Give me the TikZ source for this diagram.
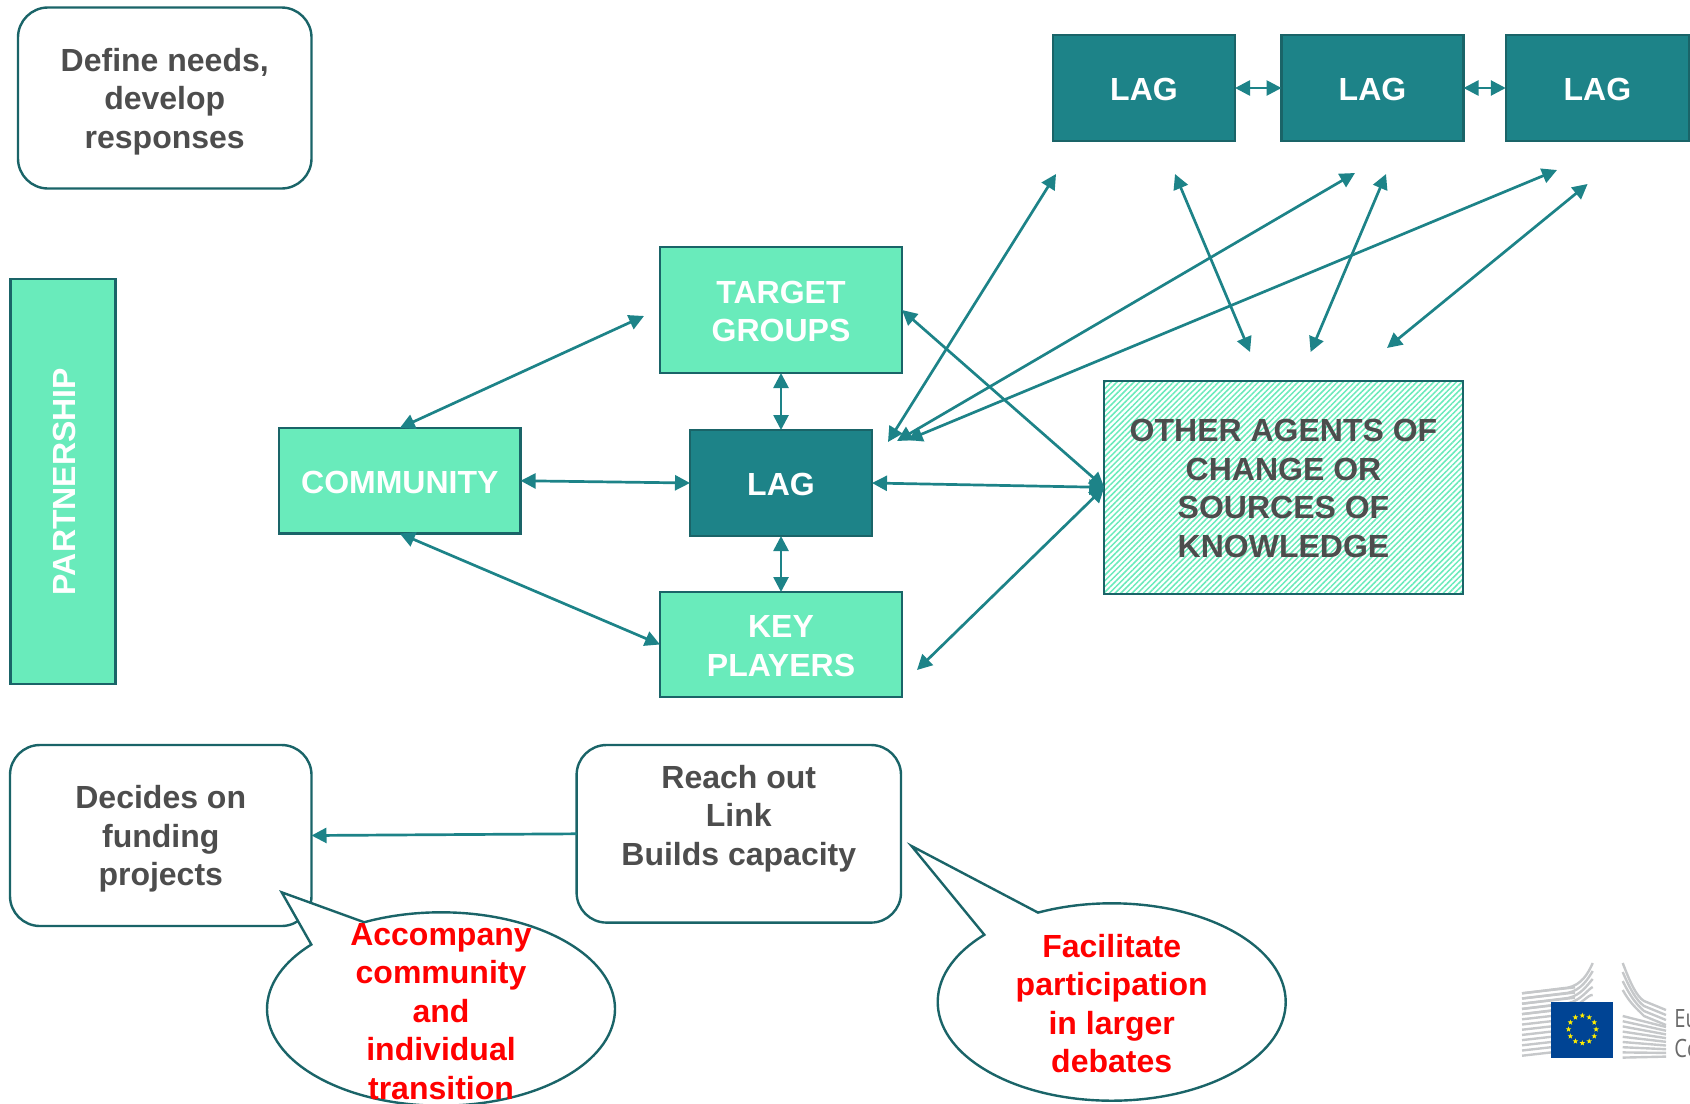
\documentclass[tikz,border=0pt]{standalone}
\usepackage{fontspec}
\setmainfont{Liberation Sans}
\newfontfamily\logofont[FakeStretch=0.8]{Open Sans}
\usetikzlibrary{arrows.meta,patterns.meta,shapes.geometric,shapes.callouts,calc}
\definecolor{tealfill}{HTML}{1D8388}
\definecolor{tealedge}{HTML}{1A6468}
\definecolor{mintfill}{HTML}{69EBBB}
\definecolor{greytext}{HTML}{4D4D4D}
\definecolor{euflag}{HTML}{004494}
\definecolor{eustar}{HTML}{FFED00}
\definecolor{logogrey}{HTML}{C6C8CA}
\definecolor{logotext}{HTML}{6A6A6A}
\newcommand{\topstr}{\rule{0pt}{15.3pt}}
\newcommand{\botstr}{\rule[-3pt]{0pt}{3pt}}
\tikzset{
  basebox/.style={rectangle,draw=tealedge,line width=1.2pt,outer sep=0pt,inner sep=0pt,align=center,
    font=\fontsize{16}{19.25}\selectfont\bfseries},
  lagbox/.style={basebox,fill=tealfill,text=white},
  mintbox/.style={basebox,fill=mintfill,text=white},
  hatchbox/.style={basebox,text=greytext,
    preaction={fill=white},
    preaction={pattern={Lines[angle=45,distance=2pt,line width=0.75pt]},pattern color=mintfill}},
  notebox/.style={basebox,fill=white,text=greytext,rounded corners=15pt},
  talk/.style={ellipse callout,draw=tealedge,fill=white,line width=1.2pt,inner sep=0pt,outer sep=0pt,
    callout pointer arc=22},
  redtext/.style={text=red,align=center,font=\fontsize{16}{19.25}\selectfont\bfseries,inner sep=0pt},
  link/.style={draw=tealfill,line width=1.35pt,{Triangle[length=7.5pt,width=7.5pt]}-{Triangle[length=7.5pt,width=7.5pt]}},
  oneway/.style={draw=tealfill,line width=1.35pt,-{Triangle[length=7.5pt,width=7.5pt]}},
  wing/.style={draw=logogrey,line width=1.2pt},
  eustarshape/.style={star,star points=5,star point ratio=2.4,fill=eustar,minimum size=2.9pt,inner sep=0pt},
}
\begin{document}
\begin{tikzpicture}[x=0.5pt,y=-0.5pt]
\useasboundingbox (0,0) rectangle (1690,1103);
% boxes
\node[notebox,minimum width=146.75pt,minimum height=90.5pt] (needs) at (164.75,98) {\topstr Define needs,\\develop\\responses\botstr};
\node[mintbox,rotate=90,minimum width=202.5pt,minimum height=52.5pt] (partner) at (63,481.5) {\topstr PARTNERSHIP\botstr};
\node[mintbox,minimum width=120.8pt,minimum height=52.75pt] (comm) at (399.8,480.75) {\topstr COMMUNITY\botstr};
\node[mintbox,minimum width=121pt,minimum height=63pt] (tg) at (781,310) {\topstr TARGET\\GROUPS\botstr};
\node[lagbox,minimum width=91pt,minimum height=53pt] (lagc) at (781,483) {\topstr LAG\botstr};
\node[mintbox,minimum width=121pt,minimum height=52.5pt] (kp) at (781,644.5) {\topstr KEY\\PLAYERS\botstr};
\node[hatchbox,minimum width=179.25pt,minimum height=106.65pt] (other) at (1283.5,487.35) {\topstr OTHER AGENTS OF\\CHANGE OR\\SOURCES OF\\KNOWLEDGE\botstr};
\node[lagbox,minimum width=91pt,minimum height=53pt] (lagA) at (1144,88) {\topstr LAG\botstr};
\node[lagbox,minimum width=91pt,minimum height=53pt] (lagB) at (1372.5,88) {\topstr LAG\botstr};
\node[lagbox,minimum width=91.6pt,minimum height=53pt] (lagC) at (1597.35,88) {\topstr LAG\botstr};
\node[notebox,minimum width=150.75pt,minimum height=90.5pt] (dec) at (160.75,835.5) {\topstr Decides on\\funding\\projects\botstr};
\node[notebox,minimum width=162.2pt,minimum height=88.8pt] (reach) at (738.8,833.8) {\topstr Reach out\\Link\\Builds capacity\\\botstr};
% speech bubbles
\node[talk,minimum width=174pt,minimum height=96.7pt,callout absolute pointer={(281.7,892.3)},
  label={[redtext,yshift=-1.2pt]center:{Accompany\\community\\and\\individual\\transition}}] (bubA) at (441,1009) {};
\node[talk,minimum width=174pt,minimum height=98.7pt,callout absolute pointer={(911.5,846)},
  label={[redtext,yshift=-0.8pt]center:{Facilitate\\participation\\in larger\\debates}}] (bubB) at (1111.7,1002) {};
% free connector ends
\coordinate (ne1) at (644,316);
\coordinate (ne2) at (917,670);
\coordinate (la1) at (1056,174);
\coordinate (la2) at (1355,173);
\coordinate (la3) at (1557,170);
\coordinate (lc1) at (888,442);
\coordinate (lc2) at (897,441);
\coordinate (lc3) at (907.5,440);
\coordinate (up1) at (1175,174);
\coordinate (up2) at (1386,174);
\coordinate (up3) at (1587.6,184);
\coordinate (dn1) at (1250,352);
\coordinate (dn2) at (1310.6,352);
\coordinate (dn3) at (1387,348);
% connectors
\draw[link] (comm.north) -- (ne1);
\draw[link] (comm.east) -- (lagc.west);
\draw[link] (comm.south) -- (kp.west);
\draw[link] (tg.south) -- (lagc.north);
\draw[link] (lagc.south) -- (kp.north);
\draw[link] (lagc.east) -- (other.west);
\draw[link] (tg.east) -- (other.west);
\draw[link] (ne2) -- (other.west);
\draw[link] (la1) -- (lc1);
\draw[link] (la2) -- (lc2);
\draw[link] (la3) -- (lc3);
\draw[link] (up1) -- (dn1);
\draw[link] (up2) -- (dn2);
\draw[link] (up3) -- (dn3);
\draw[link] (lagA.east) -- (lagB.west);
\draw[link] (lagB.east) -- (lagC.west);
\draw[oneway] (reach.west) -- (dec.east);
% logo
\foreach \i in {0,...,12}{
  \draw[wing] (1522,{993.3+5.2*\i}) -- (1575,{987.3+5.2*\i});
}
\foreach \i in {0,...,4}{
  \draw[wing] (1522,{993.3+5.2*\i}) -- (1568,{987.6+5.2*\i}) .. controls (1581,{985+5.2*\i}) and (1588,{974+5*\i}) .. (1592.7,{963+8*\i});
}
\foreach \i in {0,...,3}{
  \draw[wing] (1622.7,{963+9*\i}) .. controls (1630,{982+7*\i}) and (1636,{996+4*\i}) .. (1644,{1001+5*\i}) -- (1666,{1010+5*\i});
}
\foreach \i in {0,...,8}{
  \draw[wing] (1622.7,{1016+5.2*\i}) -- (1666,{1027+3.7*\i});
}
\fill[euflag] (1551.3,1001.7) rectangle (1613.3,1057.7);
\foreach \a in {0,30,...,330}{
  \node[eustarshape,name=eu\a] at ($(1582.3,1029.3)+(\a:6.9pt)$) {};
}
\node[anchor=west,inner sep=0pt,text=logotext,font=\logofont\fontsize{12.6}{14}\selectfont] (euA) at (1674,1019) {Eu};
\node[anchor=west,inner sep=0pt,text=logotext,font=\logofont\fontsize{12.6}{14}\selectfont] (euB) at (1674,1048) {Co};
\end{tikzpicture}
\end{document}
